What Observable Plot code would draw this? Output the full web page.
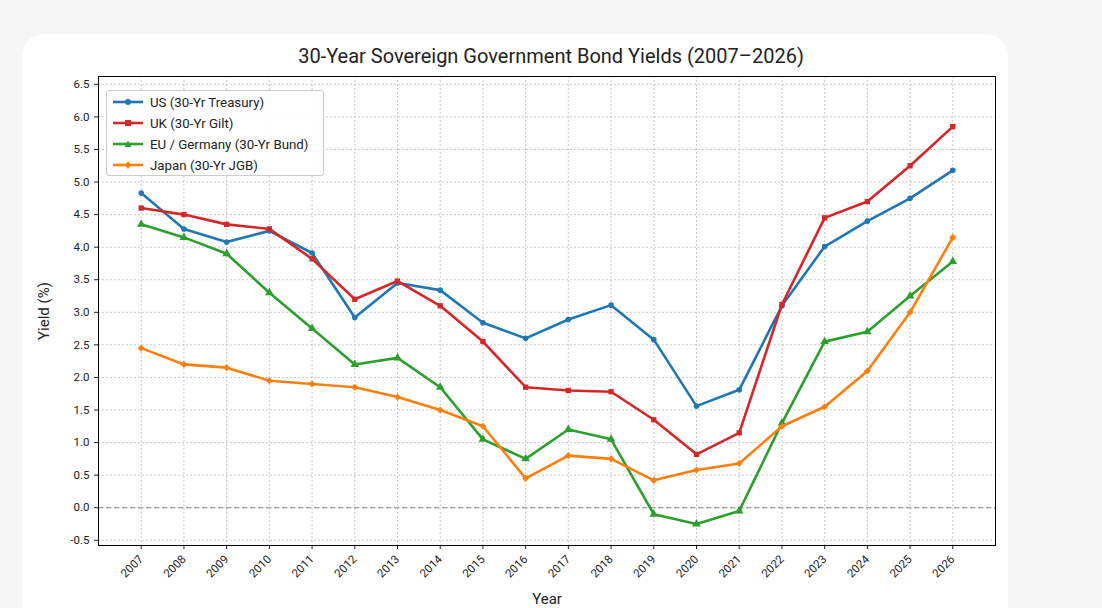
<!DOCTYPE html>
<html><head><meta charset="utf-8">
<script src="https://cdn.jsdelivr.net/npm/d3@7"></script>
<script src="https://cdn.jsdelivr.net/npm/@observablehq/plot@0.6"></script>
<style>
body{margin:0;background:#f6f6f6;font-family:Roboto,"Open Sans",sans-serif;}
#card{position:absolute;left:22px;top:34px;width:986px;height:600px;background:#fff;border-radius:22px;}
#title{position:absolute;left:0;width:1102px;top:44px;text-align:center;font-size:20px;color:#222;}
#chart{position:absolute;left:0;top:70px;}
#legend{position:absolute;left:106px;top:90px;width:216px;height:84px;border:1px solid #ccc;border-radius:3px;background:rgba(255,255,255,0.9);font-size:13.3px;color:#222;}
.row{display:flex;align-items:center;height:20px;margin-left:6px;margin-top:1px}
.row svg{margin-right:7px}
</style></head><body>
<div id="card"></div>
<div id="title">30-Year Sovereign Government Bond Yields (2007–2026)</div>
<div id="chart"></div>
<div id="legend"></div>
<script>
const years=[2007,2008,2009,2010,2011,2012,2013,2014,2015,2016,2017,2018,2019,2020,2021,2022,2023,2024,2025,2026];
const us=[4.83,4.28,4.08,4.25,3.91,2.92,3.45,3.34,2.84,2.60,2.89,3.11,2.58,1.56,1.81,3.10,4.01,4.40,4.75,5.18];
const uk=[4.60,4.50,4.35,4.28,3.82,3.20,3.48,3.10,2.55,1.85,1.80,1.78,1.35,0.82,1.15,3.12,4.45,4.70,5.25,5.85];
const eu=[4.35,4.15,3.90,3.30,2.75,2.20,2.30,1.85,1.05,0.75,1.20,1.05,-0.10,-0.25,-0.05,1.30,2.55,2.70,3.25,3.78];
const jp=[2.45,2.20,2.15,1.95,1.90,1.85,1.70,1.50,1.25,0.45,0.80,0.75,0.42,0.58,0.68,1.25,1.55,2.10,3.00,4.15];
const yTicks=[-0.5,0,0.5,1,1.5,2,2.5,3,3.5,4,4.5,5,5.5,6,6.5];
const series=[
 {name:"US (30-Yr Treasury)",vals:us,color:"#1f77b4",symbol:"circle",r:2.8},
 {name:"UK (30-Yr Gilt)",vals:uk,color:"#d62728",symbol:"square",r:3},
 {name:"EU / Germany (30-Yr Bund)",vals:eu,color:"#2ca02c",symbol:"triangle",r:3.2},
 {name:"Japan (30-Yr JGB)",vals:jp,color:"#ff7f0e",symbol:"diamond2",r:3.2}];
const marks=[
 Plot.gridX(years,{stroke:"#bbb",strokeDasharray:"2,2",strokeOpacity:0.8}),
 Plot.gridY(yTicks,{stroke:"#bbb",strokeDasharray:"2,2",strokeOpacity:0.8}),
 Plot.ruleY([0],{stroke:"#888",strokeDasharray:"5,3"}),
];
for(const s of series){
 const d=years.map((y,i)=>({year:y,v:s.vals[i]}));
 marks.push(Plot.line(d,{x:"year",y:"v",stroke:s.color,strokeWidth:2.6}));
 marks.push(Plot.dot(d,{x:"year",y:"v",fill:s.color,symbol:()=>s.symbol,r:s.r}));
}
marks.push(Plot.frame({stroke:"#000"}));
const plot=Plot.plot({
 width:1102,height:538,marginLeft:98,marginRight:107,marginTop:6,marginBottom:63,
 style:{fontFamily:"Roboto,'Open Sans',sans-serif",fontSize:"11.5px",color:"#222",background:"transparent"},
 x:{domain:[2006,2027],ticks:years,tickFormat:d=>String(d),tickRotate:-45,label:"Year",labelArrow:"none",labelAnchor:"center",labelOffset:58,tickSize:4},
 y:{domain:[-0.58,6.62],ticks:yTicks,tickFormat:d=>d.toFixed(1),label:"Yield (%)",labelArrow:"none",labelAnchor:"center",labelOffset:60,tickSize:4},
 symbol:{type:"identity"},
 marks
});
plot.querySelectorAll("g[aria-label='x-axis label'] text, g[aria-label='y-axis label'] text").forEach(t=>t.style.fontSize="15px");
document.getElementById("chart").appendChild(plot);
const lg=document.getElementById("legend");
const sym={circle:'<circle cx="15" cy="6" r="3"/>',square:'<rect x="12" y="3" width="6" height="6"/>',triangle:'<path d="M15,2.5L18.5,9H11.5Z"/>',diamond2:'<path d="M15,2L18,6L15,10L12,6Z"/>'};
for(const s of series){
 lg.insertAdjacentHTML("beforeend",`<div class="row"><svg width="30" height="12"><line x1="0" x2="30" y1="6" y2="6" stroke="${s.color}" stroke-width="2.6"/><g fill="${s.color}">${sym[s.symbol]}</g></svg>${s.name}</div>`);
}
</script></body></html>
